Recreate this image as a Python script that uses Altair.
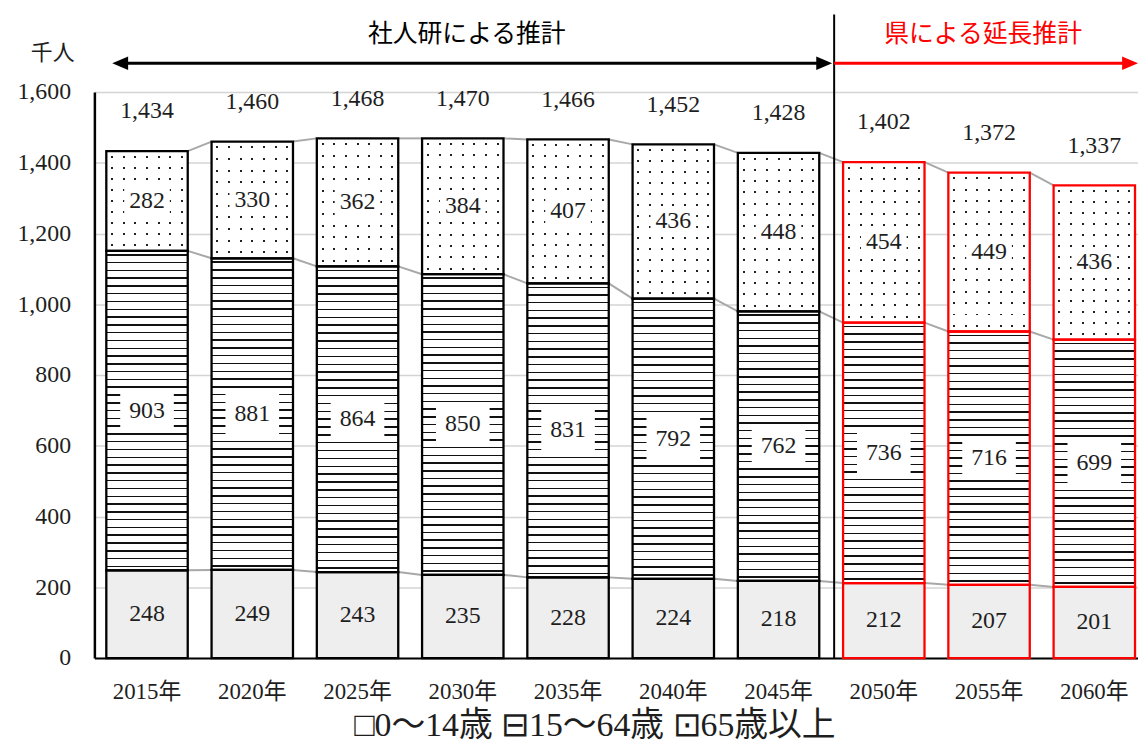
import altair as alt
import pandas as pd

# ---------------- data ----------------
years = ["2015年", "2020年", "2025年", "2030年", "2035年", "2040年", "2045年", "2050年", "2055年", "2060年"]
age_0_14 = [248, 249, 243, 235, 228, 224, 218, 212, 207, 201]
age_15_64 = [903, 881, 864, 850, 831, 792, 762, 736, 716, 699]
age_65 = [282, 330, 362, 384, 407, 436, 448, 454, 449, 436]
totals = [1434, 1460, 1468, 1470, 1466, 1452, 1428, 1402, 1372, 1337]
source = ["社人研"] * 7 + ["県"] * 3
legend_labels = ["0～14歳", "15～64歳", "65歳以上"]
title_left = "社人研による推計"
title_right = "県による延長推計"
unit_label = "千人"

# ---------------- layout ----------------
W, H = 1051, 570
YMAX = 1600
PX = H / YMAX
NUM_FONT = "Liberation Serif, Noto Sans CJK JP"
TXT = "#1e1e1e"
src_color = {"社人研": "black", "県": "red"}

rows = []
for i, yr in enumerate(years):
    a, b, c = age_0_14[i], age_15_64[i], age_65[i]
    col = src_color[source[i]]
    rows.append(dict(year=yr, grp="a", lo=0, hi=a, mid=a / 2, val=a, stroke=col, total=totals[i]))
    rows.append(dict(year=yr, grp="b", lo=a, hi=a + b, mid=a + b / 2, val=b, stroke=col, total=totals[i]))
    rows.append(dict(year=yr, grp="c", lo=a + b, hi=a + b + c, mid=a + b + c / 2, val=c, stroke=col, total=totals[i]))
df = pd.DataFrame(rows)

conn = []
levels = [
    age_0_14,
    [a + b for a, b in zip(age_0_14, age_15_64)],
    [a + b + c for a, b, c in zip(age_0_14, age_15_64, age_65)],
]
for lev in levels:
    for i in range(len(years) - 1):
        conn.append(dict(year=years[i], x2=years[i + 1], lo=lev[i], y2=lev[i + 1]))
conn_df = pd.DataFrame(conn)

xscale = alt.Scale(domain=years, paddingInner=24 / 106, paddingOuter=0.0708, align=0.8)
X_AXIS = alt.Axis(title=None, labelAngle=0, labelFont=NUM_FONT, labelFontSize=23,
                  labelColor=TXT, ticks=False, domain=True, domainColor="black",
                  domainWidth=2, labelPadding=23, grid=False)
X = alt.X("year:N", sort=years, scale=xscale, axis=X_AXIS)
yscale = alt.Scale(domain=[0, YMAX], nice=False)
Y_AXIS = alt.Axis(title=None, values=list(range(0, 1601, 200)), format=",.0f",
                  labelFont=NUM_FONT, labelFontSize=24, labelColor=TXT, ticks=False,
                  domain=True, domainColor="black", domainWidth=2.5, labelPadding=24,
                  grid=True, gridColor="#d4d4d4", gridWidth=1.6)
Y = alt.Y("lo:Q", scale=yscale, axis=Y_AXIS)

base = alt.Chart(df)

layers = []

# connector (series) lines
layers.append(
    alt.Chart(conn_df).mark_rule(color="#a8a8a8", strokeWidth=2, xOffset=41, x2Offset=-41).encode(
        x=X, x2="x2:N", y=Y, y2="y2:Q",
    )
)

# 0-14 (light gray)
layers.append(
    base.transform_filter(alt.datum.grp == "a").mark_bar(fill="#eeeeee", strokeWidth=0).encode(
        x=X, y=Y, y2="hi:Q"
    )
)


def stripes(h_px, period, thick, on, off):
    n = max(1, round(h_px / period))
    t = thick / h_px
    stops = [{"offset": 0, "color": off}]
    for k in range(n):
        s = (k + 0.5) / n - t / 2
        e = s + t
        stops += [{"offset": s, "color": off}, {"offset": s, "color": on},
                  {"offset": e, "color": on}, {"offset": e, "color": off}]
    stops.append({"offset": 1, "color": off})
    return stops


for i, yr in enumerate(years):
    # 15-64 horizontal hatching
    h = age_15_64[i] * PX
    grad = {"gradient": "linear", "x1": 0, "x2": 0, "y1": 0, "y2": 1,
            "stops": stripes(h, 7.8, 1.5, "#111111", "#ffffff")}
    layers.append(
        base.transform_filter((alt.datum.grp == "b") & (alt.datum.year == yr))
        .mark_bar(fill=grad, strokeWidth=0)
        .encode(x=X, y=Y, y2="hi:Q")
    )
    # 65+ dots: vertical columns + horizontal mask
    h2 = age_65[i] * PX
    vgrad = {"gradient": "linear", "x1": 0, "x2": 1, "y1": 0, "y2": 0,
             "stops": stripes(82, 11.7, 2, "#222222", "#ffffff")}
    mgrad = {"gradient": "linear", "x1": 0, "x2": 0, "y1": 0, "y2": 1,
             "stops": stripes(h2, 11.5, 2, "rgba(255,255,255,0)", "#ffffff")}
    sel = base.transform_filter((alt.datum.grp == "c") & (alt.datum.year == yr))
    layers.append(sel.mark_bar(fill=vgrad, strokeWidth=0).encode(x=X, y=Y, y2="hi:Q"))
    layers.append(sel.mark_bar(fill=mgrad, strokeWidth=0).encode(x=X, y=Y, y2="hi:Q"))

# bar outlines
layers.append(
    base.mark_bar(fillOpacity=0, strokeWidth=2.3).encode(
        x=X, y=Y, y2="hi:Q",
        stroke=alt.Stroke("stroke:N", scale=None),
    )
)

# white boxes behind labels
box_b = "M-1,-0.8L1,-0.8L1,0.8L-1,0.8Z"
box_c = "M-1,-0.62L1,-0.62L1,0.62L-1,0.62Z"
layers.append(
    base.transform_filter(alt.datum.grp == "b").mark_point(
        shape=box_b, size=54 * 54, filled=True, fill="white", opacity=1, strokeWidth=0
    ).encode(x=X, y=alt.Y("mid:Q", scale=yscale, axis=Y_AXIS))
)
layers.append(
    base.transform_filter(alt.datum.grp == "c").mark_point(
        shape=box_c, size=46 * 46, filled=True, fill="white", opacity=1, strokeWidth=0
    ).encode(x=X, y=alt.Y("mid:Q", scale=yscale, axis=Y_AXIS))
)

# segment labels
layers.append(
    base.mark_text(font=NUM_FONT, fontSize=24, color=TXT, baseline="middle").encode(
        x=X, y=alt.Y("mid:Q", scale=yscale, axis=Y_AXIS), text=alt.Text("val:Q")
    )
)

# totals
layers.append(
    base.transform_filter(alt.datum.grp == "c").mark_text(
        font=NUM_FONT, fontSize=24, color=TXT, baseline="middle", dy=-40
    ).encode(x=X, y=alt.Y("hi:Q", scale=yscale, axis=Y_AXIS), text=alt.Text("total:Q", format=","))
)

# ---------------- annotations ----------------
one = alt.Chart(pd.DataFrame({"k": [0]}))

layers.append(one.mark_rule(color="black", strokeWidth=2).encode(
    x=alt.value(745), y=alt.value(-78), y2=alt.value(H)))
layers.append(one.mark_rule(color="black", strokeWidth=3).encode(
    x=alt.value(24), x2=alt.value(736), y=alt.value(-29)))
layers.append(one.mark_rule(color="red", strokeWidth=3).encode(
    x=alt.value(745), x2=alt.value(1044), y=alt.value(-29)))

tri_left = "M-1,0L1,-0.85L1,0.85Z"
tri_right = "M1,0L-1,-0.85L-1,0.85Z"
layers.append(one.mark_point(shape=tri_left, size=256, filled=True, fill="black", opacity=1, strokeWidth=0).encode(
    x=alt.value(26), y=alt.value(-29)))
layers.append(one.mark_point(shape=tri_right, size=256, filled=True, fill="black", opacity=1, strokeWidth=0).encode(
    x=alt.value(735), y=alt.value(-29)))
layers.append(one.mark_point(shape=tri_right, size=256, filled=True, fill="red", opacity=1, strokeWidth=0).encode(
    x=alt.value(1043), y=alt.value(-29)))

layers.append(one.mark_text(font=NUM_FONT, fontSize=25, color="black", baseline="middle", align="center").encode(
    x=alt.value(375), y=alt.value(-58), text=alt.value(title_left)))
layers.append(one.mark_text(font=NUM_FONT, fontSize=25, color="red", baseline="middle", align="center").encode(
    x=alt.value(895), y=alt.value(-58), text=alt.value(title_right)))
layers.append(one.mark_text(font=NUM_FONT, fontSize=22, color=TXT, baseline="middle", align="center").encode(
    x=alt.value(-42), y=alt.value(-39), text=alt.value(unit_label)))

legend_text = "□" + legend_labels[0] + " ⊟" + legend_labels[1] + " ⊡" + legend_labels[2]
layers.append(one.mark_text(font=NUM_FONT, fontSize=34, color=TXT, baseline="middle", align="center").encode(
    x=alt.value(504), y=alt.value(639), text=alt.value(legend_text)))

chart = alt.layer(*layers).properties(
    width=W, height=H,
    padding={"left": 87, "top": 82, "right": 0, "bottom": 89},
    autosize=alt.AutoSizeParams(type="none"),
    background="white",
).configure_view(stroke=None)

chart.save("out.html", embed_options={"renderer": "svg", "actions": False})
